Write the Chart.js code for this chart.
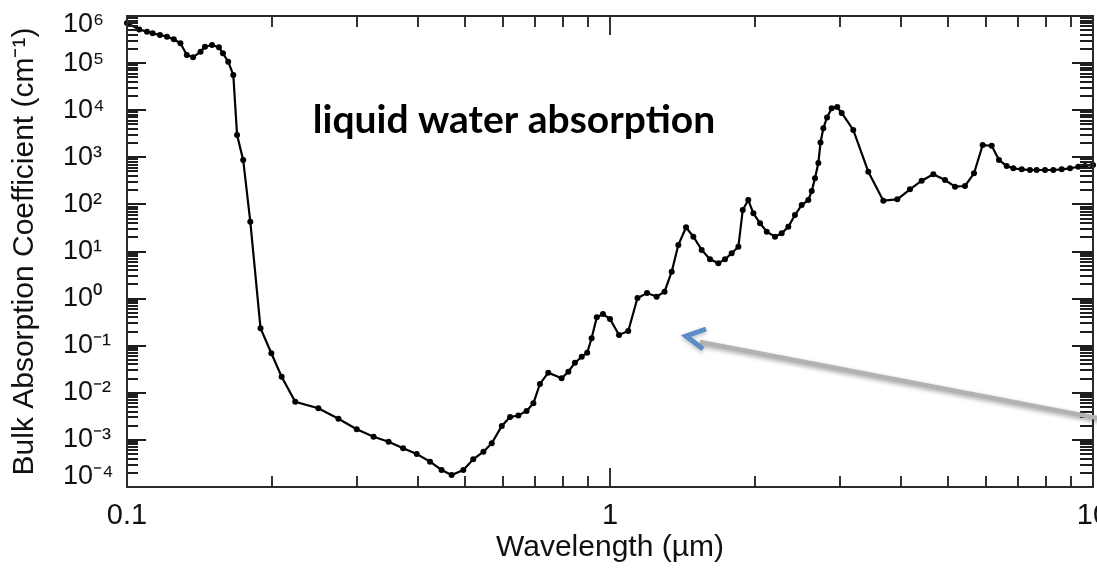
<!DOCTYPE html>
<html>
<head>
<meta charset="utf-8">
<script src="https://cdn.jsdelivr.net/npm/chart.js@4.4.1/dist/chart.umd.min.js"></script>
<style>
  html, body { margin: 0; padding: 0; background: #fff; }
</style>
</head>
<body>
<canvas id="waterChart" width="1097" height="568"></canvas>
<script>
// Wavelength (um) and bulk absorption coefficient (cm^-1)
const wavelength = [
  0.100, 0.106, 0.110, 0.113, 0.117, 0.121, 0.125, 0.129, 0.133, 0.137,
  0.142, 0.145, 0.150, 0.155, 0.158, 0.162, 0.166, 0.169, 0.174, 0.180,
  0.189, 0.199, 0.209, 0.223, 0.249, 0.274, 0.299, 0.324, 0.348, 0.373,
  0.398, 0.424, 0.448, 0.470, 0.497, 0.521, 0.547, 0.569, 0.597, 0.621,
  0.646, 0.672, 0.694, 0.716, 0.745, 0.794, 0.820, 0.846, 0.874, 0.897,
  0.916, 0.939, 0.967, 1.000, 1.044, 1.091, 1.140, 1.193, 1.249, 1.297,
  1.342, 1.385, 1.437, 1.488, 1.548, 1.611, 1.676, 1.730, 1.786, 1.844,
  1.883, 1.933, 1.981, 2.045, 2.111, 2.196, 2.267, 2.340, 2.415, 2.494,
  2.574, 2.616, 2.657, 2.700, 2.728, 2.765, 2.814, 2.877, 2.955, 3.018,
  3.189, 3.426, 3.680, 3.934, 4.179, 4.419, 4.671, 4.939, 5.180, 5.433,
  5.671, 5.910, 6.170, 6.389, 6.627, 6.839, 7.119, 7.406, 7.645, 7.954,
  8.276, 8.614, 8.964, 9.325, 9.625, 10.00
];
const absorption = [
  7.1e5, 5.2e5, 4.64e5, 4.29e5, 3.95e5, 3.64e5, 3.2e5, 2.63e5, 1.49e5, 1.33e5,
  1.75e5, 2.23e5, 2.42e5, 2.17e5, 1.61e5, 1.07e5, 5.59e4, 2980, 877, 43,
  0.234, 0.069, 0.022, 6.47e-3, 4.69e-3, 2.81e-3, 1.68e-3, 1.17e-3, 9.16e-4, 6.64e-4,
  5.02e-4, 3.45e-4, 2.3e-4, 1.8e-4, 2.3e-4, 3.87e-4, 5.61e-4, 8.47e-4, 1.97e-3, 3.06e-3,
  3.3e-3, 4.11e-3, 5.98e-3, 0.0154, 0.0267, 0.0203, 0.0281, 0.0436, 0.0583, 0.071,
  0.144, 0.401, 0.471, 0.369, 0.169, 0.205, 1.03, 1.31, 1.10, 1.40,
  3.73, 13.7, 32.7, 20.6, 10.8, 6.83, 5.61, 6.83, 9.16, 12.6,
  76, 124, 64.7, 39.7, 26.3, 20.6, 24.3, 33.6, 59.6, 97,
  124, 192, 358, 757, 2060, 4130, 7000, 10970, 11700, 8720,
  3800, 494, 120, 128, 209, 318, 436, 330, 238, 246,
  457, 1820, 1760, 877, 653, 584, 556, 537, 537, 537,
  537, 556, 584, 631, 653, 687
];

const xMajorTicks = [0.1, 1, 10];
const xTickLabels = ['0.1', '1', '10'];
const yMajorTicks = [1e-4, 1e-3, 1e-2, 1e-1, 1e0, 1e1, 1e2, 1e3, 1e4, 1e5, 1e6];
const yTickLabels = ['10⁻⁴', '10⁻³', '10⁻²', '10⁻¹', '10⁰', '10¹', '10²', '10³', '10⁴', '10⁵', '10⁶'];

const labelFont = 'Liberation Sans, Arial, Helvetica, sans-serif';

// 1..9 per decade, major at each power of ten
function logTicks(majors) {
    const out = [];
    majors.forEach((m, i) => {
        out.push({ value: m, major: true });
        if (i < majors.length - 1) {
            for (let k = 2; k <= 9; k++) out.push({ value: m * k, major: false });
        }
    });
    return out;
}

function labelFor(majors, labels, v) {
    const i = majors.findIndex(m => Math.abs(m - v) / m < 1e-6);
    return i >= 0 ? labels[i] : '';
}

// pull the end labels of the y axis inside the frame, as in the original figure
const endLabels = {
    id: 'endLabels',
    beforeDraw(chart) {
        const y = chart.scales.y;
        y.getLabelItems(chart.chartArea).forEach(item => {
            if (item.label === yTickLabels[yTickLabels.length - 1]) item.options.translation[1] += 9;
            if (item.label === yTickLabels[0]) item.options.translation[1] -= 10;
        });
    }
};

// inward ticks on all four sides plus the box
const axisFrame = {
    id: 'axisFrame',
    afterDatasetsDraw(chart) {
        const { ctx, chartArea: a, scales: { x, y } } = chart;
        ctx.save();
        ctx.strokeStyle = '#1e1e1e';
        ctx.lineWidth = 1.8;
        ctx.beginPath();
        x.ticks.forEach(t => {
            const px = Math.round(x.getPixelForValue(t.value));
            const len = t.major ? 19 : 11;
            ctx.moveTo(px, a.bottom); ctx.lineTo(px, a.bottom - len);
            ctx.moveTo(px, a.top); ctx.lineTo(px, a.top + len);
        });
        y.ticks.forEach(t => {
            const py = Math.round(y.getPixelForValue(t.value));
            ctx.moveTo(a.left, py); ctx.lineTo(a.left + (t.major ? 19 : 11), py);
            ctx.moveTo(a.right, py); ctx.lineTo(a.right - (t.major ? 21 : 13), py);
        });
        ctx.stroke();
        ctx.lineWidth = 2;
        ctx.strokeStyle = '#2a2a2a';
        ctx.strokeRect(a.left, a.top, a.right - a.left, a.bottom - a.top);
        ctx.restore();
    }
};

// caption and the grey pointer arrow
const overlay = {
    id: 'overlay',
    afterDraw(chart) {
        const ctx = chart.ctx;
        ctx.save();
        ctx.font = 'bold 39px Lato, "Open Sans", sans-serif';
        ctx.fillStyle = '#000';
        ctx.textAlign = 'center';
        ctx.textBaseline = 'alphabetic';
        ctx.fillText('liquid water absorption', 514, 133);

        ctx.shadowColor = 'rgba(0,0,0,0.35)';
        ctx.shadowBlur = 4;
        ctx.shadowOffsetY = 2;
        ctx.strokeStyle = '#b2b2b2';
        ctx.lineWidth = 4.5;
        ctx.beginPath();
        ctx.moveTo(1100, 418.5);
        ctx.lineTo(700, 342);
        ctx.stroke();

        ctx.shadowColor = 'rgba(0,0,0,0.25)';
        ctx.strokeStyle = '#5b8cc8';
        ctx.lineWidth = 5;
        ctx.lineJoin = 'miter';
        ctx.beginPath();
        ctx.moveTo(706, 329);
        ctx.lineTo(686, 336);
        ctx.lineTo(703, 349);
        ctx.stroke();
        ctx.restore();
    }
};

const ctx = document.getElementById('waterChart').getContext('2d');
const waterChart = new Chart(ctx, {
    type: 'line',
    data: {
        datasets: [{
            label: 'liquid water',
            data: wavelength.map((w, i) => ({ x: w, y: absorption[i] })),
            xAxisID: 'x',
            yAxisID: 'y',
            borderColor: '#000',
            borderWidth: 2.2,
            pointRadius: 3,
            pointBackgroundColor: '#000',
            pointBorderWidth: 0,
            tension: 0,
            clip: 4
        }]
    },
    options: {
        responsive: false,
        animation: false,
        events: [],
        layout: { padding: { top: 16, right: 4, bottom: 0, left: 0 } },
        plugins: {
            legend: { display: false },
            tooltip: { enabled: false }
        },
        scales: {
            x: {
                type: 'logarithmic',
                min: 0.1,
                max: 10,
                afterBuildTicks: s => { s.ticks = logTicks(xMajorTicks); },
                afterFit: s => {
                    s.height = 81;
                    s.paddingLeft = 0; s.paddingRight = 0;
                },
                grid: { display: false, drawTicks: false },
                border: { display: false },
                ticks: {
                    autoSkip: false,
                    maxRotation: 0,
                    padding: 12,
                    color: '#111',
                    font: { family: labelFont, size: 29 },
                    callback: v => labelFor(xMajorTicks, xTickLabels, v)
                },
                title: {
                    display: true,
                    text: 'Wavelength (µm)',
                    color: '#111',
                    font: { family: labelFont, size: 30 },
                    padding: { top: 0, bottom: 2 }
                }
            },
            // outer left box only carries the axis title
            yTitle: {
                axis: 'y',
                type: 'linear',
                position: 'left',
                weight: 1,
                min: 0,
                max: 1,
                afterFit: s => {
                    s.width = 63;
                    s.paddingTop = 0; s.paddingBottom = 0;
                },
                grid: { display: false, drawTicks: false },
                border: { display: false },
                ticks: { display: false },
                title: {
                    display: true,
                    text: 'Bulk Absorption Coefficient (cm⁻¹)',
                    color: '#111',
                    font: { family: labelFont, size: 30 },
                    padding: { top: 7, bottom: 0 }
                }
            },
            y: {
                axis: 'y',
                type: 'logarithmic',
                position: 'left',
                weight: 0,
                min: 1e-4,
                max: 1e6,
                afterBuildTicks: s => { s.ticks = logTicks(yMajorTicks); },
                afterFit: s => {
                    s.width = 64;
                    s.paddingTop = 0; s.paddingBottom = 0;
                },
                grid: { display: false, drawTicks: false },
                border: { display: false },
                ticks: {
                    autoSkip: false,
                    crossAlign: 'far',
                    padding: 0,
                    color: '#111',
                    font: { family: labelFont, size: 27 },
                    callback: v => labelFor(yMajorTicks, yTickLabels, v)
                }
            }
        }
    },
    plugins: [endLabels, axisFrame, overlay]
});
</script>
</body>
</html>
